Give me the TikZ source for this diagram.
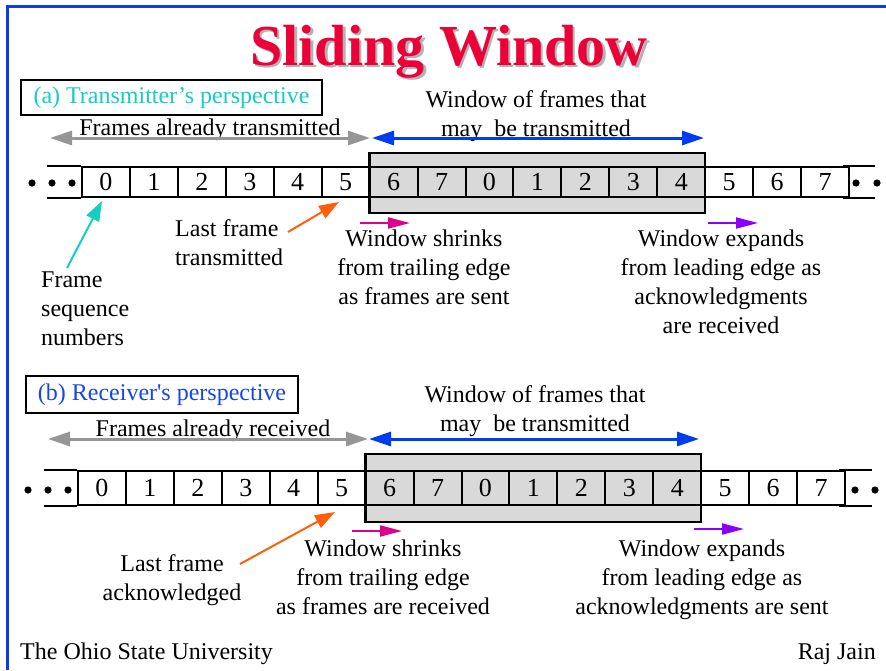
\documentclass[tikz,border=0pt]{standalone}
\usepackage{fontspec}
\setmainfont{Liberation Serif}
\usetikzlibrary{arrows.meta}
\definecolor{titlered}{RGB}{235,0,55}
\definecolor{bordblue}{RGB}{10,60,235}
\definecolor{labcyan}{RGB}{20,205,195}
\definecolor{labblue}{RGB}{20,70,235}
\definecolor{arrblue}{RGB}{0,60,240}
\definecolor{arrgray}{RGB}{150,150,150}
\definecolor{arrorange}{RGB}{255,95,10}
\definecolor{arrmag}{RGB}{220,0,140}
\definecolor{arrpurp}{RGB}{140,0,250}
\definecolor{wingray}{RGB}{217,217,217}
\newcommand{\straightapos}{{\addfontfeatures{Ligatures=TeXOff}'}}
\tikzset{
  txt/.style={font=\fontsize{24}{29}\selectfont, inner sep=0pt},
  digit/.style={font=\fontsize{26}{30}\selectfont},
  cellbox/.style={draw=black, line width=2pt, minimum width=47.94pt, inner sep=0pt, digit},
  winbox/.style={draw=black, line width=2.5pt, fill=wingray, minimum width=335.6pt, inner sep=0pt},
  labbox/.style={draw=black, line width=2pt, inner sep=0pt, font=\fontsize{24}{29}\selectfont},
  bigarr/.style={line width=3pt, {Triangle[length=22pt,width=14pt]}-{Triangle[length=22pt,width=14pt]}},
  smallarr/.style={line width=2pt, -{Triangle[length=22pt,width=11pt]}},
  ptrarr/.style={line width=2pt, -{Triangle[length=20pt,width=14pt]}},
  bracket/.style={line width=2pt},
}
\begin{document}
\begin{tikzpicture}[x=1pt,y=-1pt]
\useasboundingbox (0,0) rectangle (886,670);
% border
\draw[bordblue, line width=3pt] (7,670) -- (7,6) -- (886,6);
% title
\node[font=\bfseries\fontsize{58}{60}\selectfont, text=gray!60, anchor=base, inner sep=0pt] (tshadow) at (451.5,67.5) {Sliding Window};
\node[font=\bfseries\fontsize{58}{60}\selectfont, text=titlered, anchor=base, inner sep=0pt] (title) at (449,65) {Sliding Window};

% ===================== (a) transmitter =====================
\node[labbox, minimum width=301pt, minimum height=35pt, text=labcyan] (laba) at (171.5,97.5) {(a) Transmitter's perspective};
\node[txt, anchor=base, align=center] (wina) at (536,136) {Window of frames that\\may\ \ be transmitted};
\node[txt, anchor=base] (fata) at (210,135) {Frames already transmitted};
\coordinate (ga1) at (50,138); \coordinate (ga2) at (370,138);
\coordinate (ba1) at (372,138); \coordinate (ba2) at (704,138);
\draw[bigarr, arrgray] (ga1) -- (ga2);
\draw[bigarr, arrblue] (ba1) -- (ba2);

\node[winbox, minimum height=60pt] (wa) at (537.4,183) {};
\foreach \d [count=\i from 0] in {0,1,2,3,4,5,6,7,0,1,2,3,4,5,6,7}
  \node[cellbox, minimum height=30pt] (a\i) at ({82+47.94*(\i+0.5)},182) {\d};
\draw[bracket] ([xshift=-34pt]a0.north west) -- (a0.north west);
\draw[bracket] ([xshift=-34pt]a0.south west) -- (a0.south west);
\draw[bracket] ([xshift=-7pt]a15.north east) -- ([xshift=25pt]a15.north east);
\draw[bracket] ([xshift=-7pt]a15.south east) -- ([xshift=25pt]a15.south east);
\foreach \x in {32,52,72,856,877} \fill (\x,183) circle (3.6pt);

\node[txt, anchor=base west, align=left] (fsn) at (41,345) {Frame\\sequence\\numbers};
\coordinate (ca1) at (67,268); \coordinate (ca2) at (102,201);
\draw[ptrarr, labcyan] (ca1) -- (ca2);
\node[txt, anchor=base west, align=left] (lft) at (175,265) {Last frame\\transmitted};
\coordinate (oa1) at (288,232); \coordinate (oa2) at (339,202);
\draw[ptrarr, arrorange] (oa1) -- (oa2);
\coordinate (ma1) at (360,223); \coordinate (ma2) at (410,223);
\draw[smallarr, arrmag] (ma1) -- (ma2);
\node[txt, anchor=base, align=center] (wsa) at (424,304) {Window shrinks\\from trailing edge\\as frames are sent};
\coordinate (pa1) at (708,223); \coordinate (pa2) at (758,223);
\draw[smallarr, arrpurp] (pa1) -- (pa2);
\node[txt, anchor=base, align=center] (wea) at (721,333) {Window expands\\from leading edge as\\acknowledgments\\are received};

% ===================== (b) receiver =====================
\node[labbox, minimum width=272pt, minimum height=37pt, text=labblue] (labb) at (162,394.5) {(b) Receiver\straightapos s perspective};
\node[txt, anchor=base, align=center] (winb) at (535,431) {Window of frames that\\may\ \ be transmitted};
\node[txt, anchor=base] (farb) at (213,436) {Frames already received};
\coordinate (gb1) at (48,439); \coordinate (gb2) at (368,439);
\coordinate (bb1) at (369,439); \coordinate (bb2) at (699,439);
\draw[bigarr, arrgray] (gb1) -- (gb2);
\draw[bigarr, arrblue] (bb1) -- (bb2);

\node[winbox, minimum height=68pt] (wb) at (533.4,488) {};
\foreach \d [count=\i from 0] in {0,1,2,3,4,5,6,7,0,1,2,3,4,5,6,7}
  \node[cellbox, minimum height=34pt] (b\i) at ({78+47.94*(\i+0.5)},488) {\d};
\draw[bracket] ([xshift=-33pt]b0.north west) -- (b0.north west);
\draw[bracket] ([xshift=-33pt]b0.south west) -- (b0.south west);
\draw[bracket] ([xshift=-7pt]b15.north east) -- ([xshift=26pt]b15.north east);
\draw[bracket] ([xshift=-7pt]b15.south east) -- ([xshift=26pt]b15.south east);
\foreach \x in {28,48,68,855,875} \fill (\x,490) circle (3.6pt);

\node[txt, anchor=base, align=center] (lfa) at (172,600) {Last frame\\acknowledged};
\coordinate (ob1) at (240,564); \coordinate (ob2) at (335,512);
\draw[ptrarr, arrorange] (ob1) -- (ob2);
\coordinate (mb1) at (352,531); \coordinate (mb2) at (402,531);
\draw[smallarr, arrmag] (mb1) -- (mb2);
\node[txt, anchor=base, align=center] (wsb) at (383,614) {Window shrinks\\from trailing edge\\as frames are received};
\coordinate (pb1) at (694,529); \coordinate (pb2) at (744,529);
\draw[smallarr, arrpurp] (pb1) -- (pb2);
\node[txt, anchor=base, align=center] (web) at (702,614) {Window expands\\from leading edge as\\acknowledgments are sent};

% footer
\node[txt, anchor=base west] (osu) at (20,659) {The Ohio State University};
\node[txt, anchor=base east] (raj) at (876,659) {Raj Jain};
\end{tikzpicture}
\end{document}
